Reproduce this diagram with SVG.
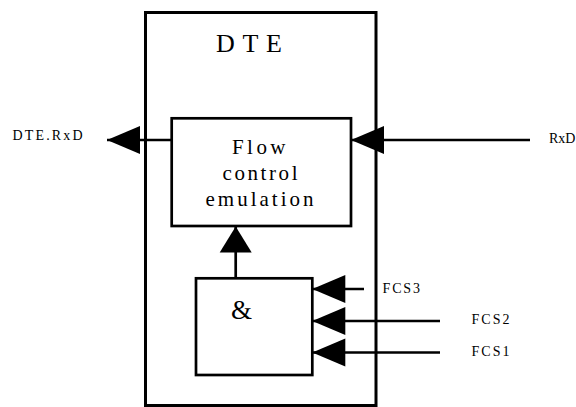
<svg xmlns="http://www.w3.org/2000/svg" width="576" height="407" viewBox="0 0 576 407">
<style>
.box{fill:#fff;stroke:#000;stroke-width:2.7}
.outer{fill:none;stroke:#000;stroke-width:3}
.wire{fill:none;stroke:#000;stroke-width:2.7}
.t{font-family:"Liberation Serif","Times New Roman",serif;fill:#000}
.lbl{font-size:14px}
.fl{font-size:21px}
</style>
<defs>
<marker id="ah" markerUnits="userSpaceOnUse" markerWidth="34" markerHeight="30" refX="33" refY="14" orient="auto" overflow="visible">
<path d="M0,0 L33,14 L0,28 Z" fill="#000"/>
</marker>
<marker id="ahUp" markerUnits="userSpaceOnUse" markerWidth="27" markerHeight="34" refX="26" refY="16" orient="auto" overflow="visible">
<path d="M0,0 L26,16 L0,32 Z" fill="#000"/>
</marker>
</defs>
<g id="dte">
<rect class="outer" x="145.5" y="12.5" width="230.5" height="393"/>
<text class="t" x="216" y="52.3" font-size="26" textLength="66" lengthAdjust="spacing">DTE</text>
</g>
<g id="flow">
<rect class="box" x="171.7" y="118.3" width="179.3" height="107.7"/>
<text class="t fl" x="232" y="153.5" textLength="53.5" lengthAdjust="spacing">Flow</text>
<text class="t fl" x="222.5" y="179.5" textLength="75" lengthAdjust="spacing">control</text>
<text class="t fl" x="205.5" y="205.5" textLength="108" lengthAdjust="spacing">emulation</text>
</g>
<g id="and">
<rect class="box" x="196" y="278.3" width="116.3" height="96.7"/>
<text class="t" x="231" y="318.5" font-size="27">&amp;</text>
</g>
<g id="connectors">
<line class="wire" x1="171.7" y1="140" x2="107" y2="140" marker-end="url(#ah)"/>
<line class="wire" x1="530" y1="140" x2="351" y2="140" marker-end="url(#ah)"/>
<line class="wire" x1="235.7" y1="278.3" x2="235.7" y2="226.5" marker-end="url(#ahUp)"/>
<line class="wire" x1="364" y1="289" x2="312.3" y2="289" marker-end="url(#ah)"/>
<line class="wire" x1="440" y1="321" x2="312.3" y2="321" marker-end="url(#ah)"/>
<line class="wire" x1="440" y1="352.5" x2="312.3" y2="352.5" marker-end="url(#ah)"/>
</g>
<g id="labels">
<text class="t lbl" x="12.5" y="140" textLength="70" lengthAdjust="spacing">DTE.RxD</text>
<text class="t lbl" x="549" y="142.5">RxD</text>
<text class="t lbl" x="382.5" y="292.5" textLength="37.5" lengthAdjust="spacing">FCS3</text>
<text class="t lbl" x="471.5" y="323.5" textLength="38" lengthAdjust="spacing">FCS2</text>
<text class="t lbl" x="471.5" y="355.5" textLength="38" lengthAdjust="spacing">FCS1</text>
</g>
</svg>
